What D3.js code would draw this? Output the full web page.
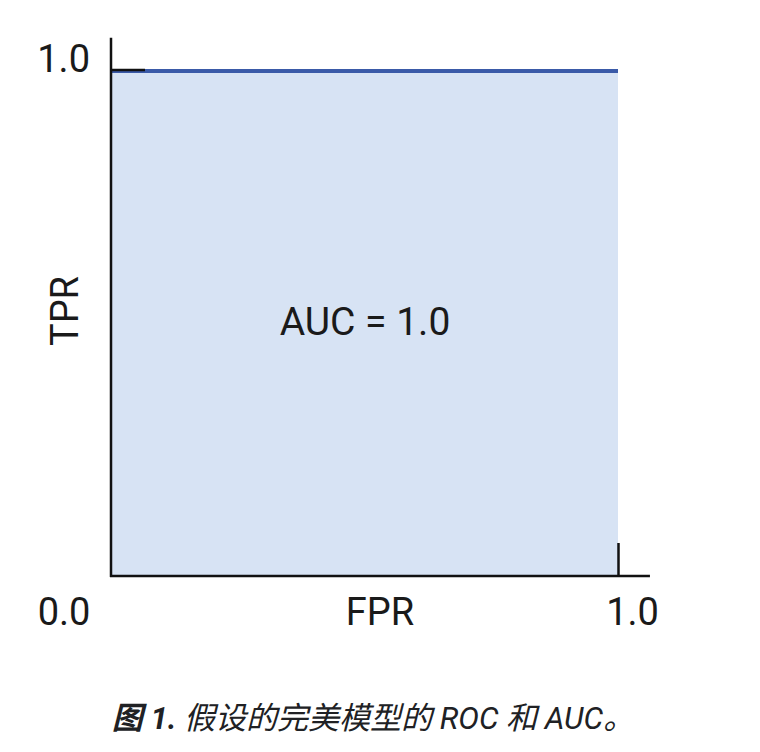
<!DOCTYPE html>
<html><head><meta charset="utf-8">
<script src="https://cdn.jsdelivr.net/npm/d3@7"></script>
<style>
html,body{margin:0;padding:0;background:#fff;}
svg{display:block;font-family:Roboto,"Noto Sans CJK SC",sans-serif;}
</style></head><body>
<svg id="c" width="760" height="752"></svg>
<script>
// data
const fpr = [0, 0, 1];
const tpr = [0, 1, 1];
const xTicks = [1];
const yTicks = [1];
const tickLabels = ["0.0", "1.0"];
const aucLabel = "AUC = 1.0";
const xTitle = "FPR";
const yTitle = "TPR";
const captionBold = "图 1.";
const captionRest = " 假设的完美模型的 ROC 和 AUC。";

const svg = d3.select("#c");
const x = d3.scaleLinear().domain([0, 1]).range([111, 618]);
const y = d3.scaleLinear().domain([0, 1]).range([576, 71]);
const pts = fpr.map((f, i) => [f, tpr[i]]);
const FS = 38;

// area
svg.append("path")
  .datum(pts)
  .attr("fill", "#d7e3f4")
  .attr("d", d3.area().x(d => x(d[0])).y0(y(0)).y1(d => y(d[1])));

// curve line (top portion)
svg.append("path")
  .datum(pts.filter(d => d[1] === 1))
  .attr("fill", "none")
  .attr("stroke", "#3a5aa8")
  .attr("stroke-width", 4)
  .attr("d", d3.line().x(d => x(d[0])).y(d => y(d[1])));

// axis lines
svg.append("line").attr("x1", x(0)).attr("x2", x(0)).attr("y1", y(0) + 1).attr("y2", y(1.066))
  .attr("stroke", "#111").attr("stroke-width", 2.5);
svg.append("line").attr("x1", x(0) - 1).attr("x2", x(1.063)).attr("y1", y(0)).attr("y2", y(0))
  .attr("stroke", "#111").attr("stroke-width", 2.5);

// axes with inward ticks
const gy = svg.append("g").attr("transform", `translate(${x(0)},0)`)
  .call(d3.axisLeft(y).tickValues(yTicks).tickSizeInner(-34).tickSizeOuter(0).tickPadding(21)
    .tickFormat(() => tickLabels[1]));
gy.select(".domain").remove();
gy.selectAll(".tick line").attr("stroke", "#111").attr("stroke-width", 2.5).attr("transform", "translate(0,-1.5)");
gy.selectAll(".tick text").attr("font-size", FS).attr("fill", "#1a1a1a").attr("dy", "0.02em")
  .attr("font-family", "Roboto");

const gx = svg.append("g").attr("transform", `translate(0,${y(0)})`)
  .call(d3.axisBottom(x).tickValues(xTicks).tickSizeInner(-33).tickSizeOuter(0).tickPadding(22)
    .tickFormat(() => tickLabels[1]));
gx.select(".domain").remove();
gx.selectAll(".tick line").attr("stroke", "#111").attr("stroke-width", 2.5);
gx.selectAll(".tick text").attr("font-size", FS).attr("fill", "#1a1a1a")
  .attr("dx", 14).attr("dy", "0.71em").attr("font-family", "Roboto");

// origin label
svg.append("text").attr("x", 64).attr("y", 625).attr("text-anchor", "middle")
  .attr("font-size", FS).attr("fill", "#1a1a1a").text(tickLabels[0]);

// titles
svg.append("text").attr("x", 380).attr("y", 625).attr("text-anchor", "middle")
  .attr("font-size", FS).attr("fill", "#1a1a1a").text(xTitle);
svg.append("text").attr("transform", "translate(78,311) rotate(-90)").attr("text-anchor", "middle")
  .attr("font-size", FS).attr("fill", "#1a1a1a").text(yTitle);

// AUC label
svg.append("text").attr("x", 365).attr("y", 335).attr("text-anchor", "middle")
  .attr("font-size", 39).attr("fill", "#1a1a1a").text(aucLabel);

// caption
const cap = svg.append("text").attr("x", 373).attr("y", 729).attr("text-anchor", "middle")
  .attr("font-size", 31).attr("font-style", "italic").attr("fill", "#202124");
cap.append("tspan").attr("font-weight", "bold").text(captionBold);
cap.append("tspan").text(captionRest);
</script>
</body></html>
